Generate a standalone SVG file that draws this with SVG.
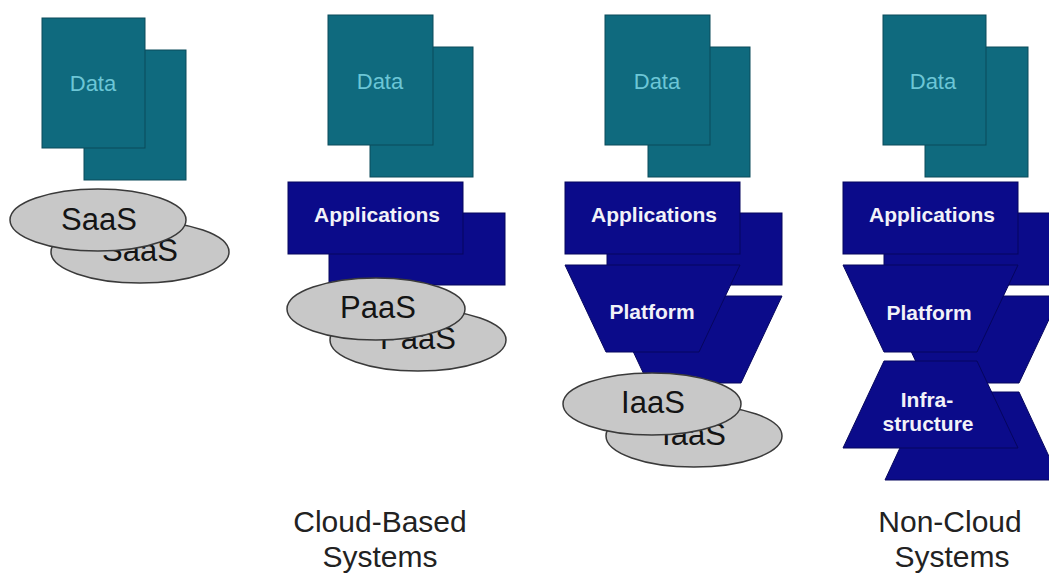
<svg xmlns="http://www.w3.org/2000/svg" width="1049" height="577" viewBox="0 0 1049 577">
<style>
.data{fill:#0f6a7e;stroke:#0a4b5a;stroke-width:1}
.dtxt{font-family:"Liberation Sans",Arial,sans-serif;font-size:22px;fill:#6cc6d6;text-anchor:middle}
.navy{fill:#0b0b8a;stroke:#06065e;stroke-width:1}
.ntxt{font-family:"Liberation Sans",Arial,sans-serif;font-size:21px;font-weight:bold;fill:#f2f2f8;text-anchor:middle}
.ell{fill:#c8c8c8;stroke:#3a3a3a;stroke-width:1.5}
.etxt{font-family:"Liberation Sans",Arial,sans-serif;font-size:31px;fill:#141414;text-anchor:middle}
.lbl{font-family:"Liberation Sans",Arial,sans-serif;font-size:30px;fill:#222;text-anchor:middle}
</style>
<rect width="1049" height="577" fill="#ffffff"/>

<!-- Column 1 -->
<g id="data1">
<rect class="data" x="84" y="50" width="102" height="130"/>
<rect class="data" x="42" y="18" width="103" height="130"/>
<text class="dtxt" x="93" y="91">Data</text>
</g>
<g id="saas">
<ellipse class="ell" cx="140" cy="252" rx="89" ry="31"/>
<text class="etxt" x="140" y="261">SaaS</text>
<ellipse class="ell" cx="98" cy="220" rx="88" ry="31"/>
<text class="etxt" x="99" y="230">SaaS</text>
</g>

<!-- Column 2 -->
<g id="data2">
<rect class="data" x="370" y="47" width="103" height="130"/>
<rect class="data" x="328" y="15" width="105" height="130"/>
<text class="dtxt" x="380" y="89">Data</text>
</g>
<g id="apps2">
<rect class="navy" x="329" y="213" width="176" height="72"/>
<rect class="navy" x="288" y="182" width="175" height="72"/>
<text class="ntxt" x="377" y="222">Applications</text>
</g>
<g id="paas">
<ellipse class="ell" cx="418" cy="340" rx="88" ry="31"/>
<text class="etxt" x="418" y="349">PaaS</text>
<ellipse class="ell" cx="376" cy="309" rx="89" ry="31"/>
<text class="etxt" x="378" y="318">PaaS</text>
</g>

<!-- Column 3 -->
<g id="data3">
<rect class="data" x="648" y="47" width="102" height="130"/>
<rect class="data" x="605" y="15" width="105" height="130"/>
<text class="dtxt" x="657" y="89">Data</text>
</g>
<g id="apps3">
<rect class="navy" x="607" y="213" width="175" height="72"/>
<rect class="navy" x="565" y="182" width="175" height="72"/>
<text class="ntxt" x="654" y="222">Applications</text>
</g>
<g id="platform3">
<polygon class="navy" points="607,296 782,296 741,383 648,383"/>
<polygon class="navy" points="565,265 740,265 699,352 606,352"/>
<text class="ntxt" x="652" y="319">Platform</text>
</g>
<g id="iaas">
<ellipse class="ell" cx="694" cy="436" rx="88" ry="31"/>
<text class="etxt" x="694" y="445">IaaS</text>
<ellipse class="ell" cx="652" cy="404" rx="89" ry="31"/>
<text class="etxt" x="653" y="413">IaaS</text>
</g>

<!-- Column 4 -->
<g id="data4">
<rect class="data" x="925" y="47" width="103" height="130"/>
<rect class="data" x="883" y="15" width="103" height="130"/>
<text class="dtxt" x="933" y="89">Data</text>
</g>
<g id="apps4">
<rect class="navy" x="884" y="213" width="176" height="72"/>
<rect class="navy" x="843" y="182" width="175" height="72"/>
<text class="ntxt" x="932" y="222">Applications</text>
</g>
<g id="platform4">
<polygon class="navy" points="885,296 1060,296 1019,383 926,383"/>
<polygon class="navy" points="843,265 1018,265 977,352 884,352"/>
<text class="ntxt" x="929" y="320">Platform</text>
</g>
<g id="infra4">
<polygon class="navy" points="926,392 1019,392 1060,480 885,480"/>
<polygon class="navy" points="884,361 977,361 1018,448 843,448"/>
<text class="ntxt" x="927" y="407">Infra-</text>
<text class="ntxt" x="928" y="431">structure</text>
</g>

<g id="connectors"></g>

<g id="labels">
<text class="lbl" x="380" y="532">Cloud-Based</text>
<text class="lbl" x="380" y="567">Systems</text>
<text class="lbl" x="950" y="532">Non-Cloud</text>
<text class="lbl" x="952" y="567">Systems</text>
</g>
</svg>
